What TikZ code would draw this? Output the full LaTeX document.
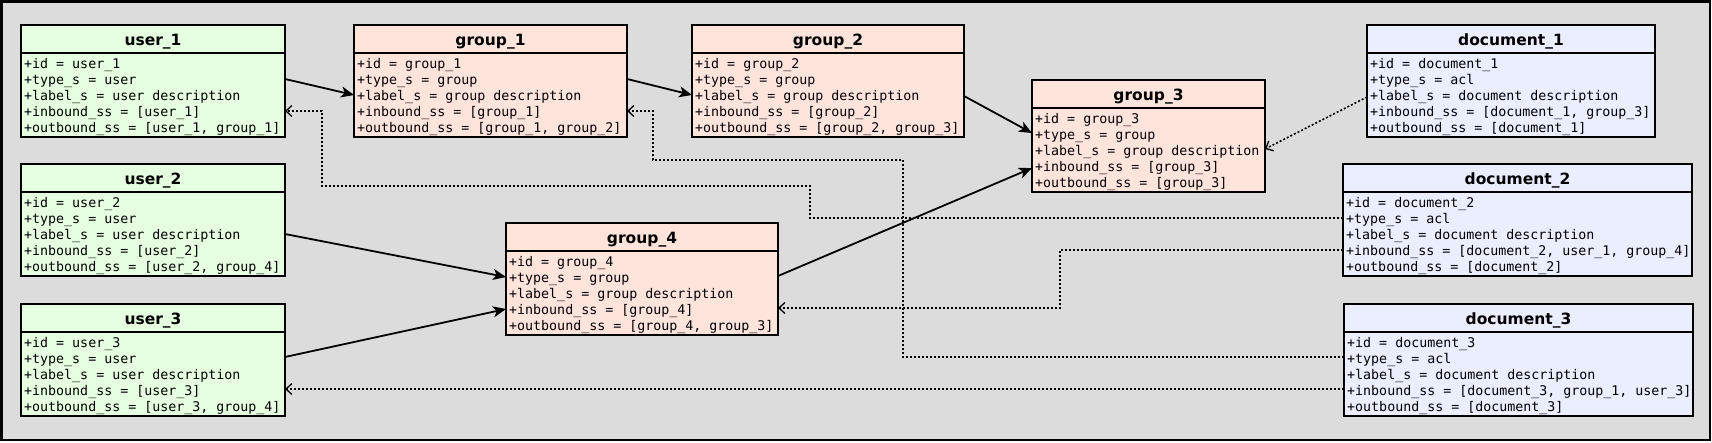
\documentclass[tikz,border=0pt]{standalone}
\usepackage{fontspec}
\setsansfont{DejaVu Sans}
\setmonofont{DejaVu Sans Mono}
\usetikzlibrary{arrows.meta,calc}
\definecolor{bgc}{HTML}{DCDCDC}
\definecolor{userc}{HTML}{E6FFE0}
\definecolor{groupc}{HTML}{FFE4DC}
\definecolor{docc}{HTML}{EAEEFF}
\tikzset{
  entbox/.style={draw, line width=2pt, inner sep=0pt, outer sep=0pt, minimum height=112pt, anchor=north west},
  divline/.style={line width=2pt},
  enttitle/.style={font={\sffamily\bfseries\fontsize{15.5}{18}\selectfont}, inner sep=0pt, anchor=base},
  entline/.style={font={\ttfamily\fontsize{13.3}{16}\selectfont}, anchor=base west, inner sep=0pt},
  link/.style={line width=1.8pt, -{Stealth[length=13pt,width=11pt,inset=3.5pt]}},
  dlink/.style={line width=1.6pt, dash pattern=on 2pt off 2pt, -{Straight Barb[length=6pt,width=11pt,line width=1.3pt]}},
}
\newcommand\entity[7]{%
  \node[entbox, fill=#5, minimum width=#4pt] (#1) at (#2,#3) {};
  \draw[divline] ($(#1.north west)+(0,28)$) -- ($(#1.north east)+(0,28)$);
  \node[enttitle] (#1-t) at ($(#1.north)+(0,20)$) {#6};
  \foreach \t [count=\i] in {#7} {
    \node[entline] (#1-l\i) at ($(#1.north west)+(3,{28+15+(\i-1)*16})$) {\t};
  }
}
\begin{document}
\begin{tikzpicture}[x=1pt,y=-1pt]
\useasboundingbox (0,0) rectangle (1712,442);
\draw[line width=2.5pt, fill=bgc] (1.5,1.5) rectangle (1710,440);

\entity{u1}{21}{25}{264}{userc}{user\_1}{{+id = user\_1},{+type\_s = user},{+label\_s = user description},{+inbound\_ss = [user\_1]},{+outbound\_ss = [user\_1, group\_1]}}
\entity{u2}{21}{164}{264}{userc}{user\_2}{{+id = user\_2},{+type\_s = user},{+label\_s = user description},{+inbound\_ss = [user\_2]},{+outbound\_ss = [user\_2, group\_4]}}
\entity{u3}{21}{304}{264}{userc}{user\_3}{{+id = user\_3},{+type\_s = user},{+label\_s = user description},{+inbound\_ss = [user\_3]},{+outbound\_ss = [user\_3, group\_4]}}
\entity{g1}{354}{25}{273}{groupc}{group\_1}{{+id = group\_1},{+type\_s = group},{+label\_s = group description},{+inbound\_ss = [group\_1]},{+outbound\_ss = [group\_1, group\_2]}}
\entity{g2}{692}{25}{272}{groupc}{group\_2}{{+id = group\_2},{+type\_s = group},{+label\_s = group description},{+inbound\_ss = [group\_2]},{+outbound\_ss = [group\_2, group\_3]}}
\entity{g3}{1032}{80}{233}{groupc}{group\_3}{{+id = group\_3},{+type\_s = group},{+label\_s = group description},{+inbound\_ss = [group\_3]},{+outbound\_ss = [group\_3]}}
\entity{g4}{506}{223}{272}{groupc}{group\_4}{{+id = group\_4},{+type\_s = group},{+label\_s = group description},{+inbound\_ss = [group\_4]},{+outbound\_ss = [group\_4, group\_3]}}
\entity{d1}{1367}{25}{288}{docc}{document\_1}{{+id = document\_1},{+type\_s = acl},{+label\_s = document description},{+inbound\_ss = [document\_1, group\_3]},{+outbound\_ss = [document\_1]}}
\entity{d2}{1343}{164}{349}{docc}{document\_2}{{+id = document\_2},{+type\_s = acl},{+label\_s = document description},{+inbound\_ss = [document\_2, user\_1, group\_4]},{+outbound\_ss = [document\_2]}}
\entity{d3}{1344}{304}{349}{docc}{document\_3}{{+id = document\_3},{+type\_s = acl},{+label\_s = document description},{+inbound\_ss = [document\_3, group\_1, user\_3]},{+outbound\_ss = [document\_3]}}

% solid links
\draw[link] ($(u1.north east)+(0,54)$) -- ($(g1.north west)+(0,70)$);
\draw[link] ($(g1.north east)+(0,54)$) -- ($(g2.north west)+(0,70)$);
\draw[link] ($(g2.north east)+(0,71)$) -- ($(g3.north west)+(0,53)$);
\draw[link] ($(u2.north east)+(0,70)$) -- ($(g4.north west)+(0,54)$);
\draw[link] ($(u3.north east)+(0,53)$) -- ($(g4.north west)+(0,86)$);
\draw[link] ($(g4.north east)+(0,53)$) -- ($(g3.north west)+(0,88)$);

% dotted links
\coordinate (b1) at (810,186);
\coordinate (b2) at (322,111);
\coordinate (b3) at (903,160);
\coordinate (b4) at (653,111);
\coordinate (b5) at (1060,308);
\draw[dlink] ($(d1.north west)+(0,72)$) -- ($(g3.north east)+(0,69)$);
\draw[dlink] ($(d2.north west)+(0,54)$) -| (b1) -| (b2) -- ($(u1.north east)+(0,86)$);
\draw[dlink] ($(d3.north west)+(0,53)$) -| (b3) -| (b4) -- ($(g1.north east)+(0,86)$);
\draw[dlink] ($(d2.north west)+(0,86)$) -| (b5) -- ($(g4.north east)+(0,85)$);
\draw[dlink] ($(d3.north west)+(0,85)$) -- ($(u3.north east)+(0,85)$);
\end{tikzpicture}
\end{document}
